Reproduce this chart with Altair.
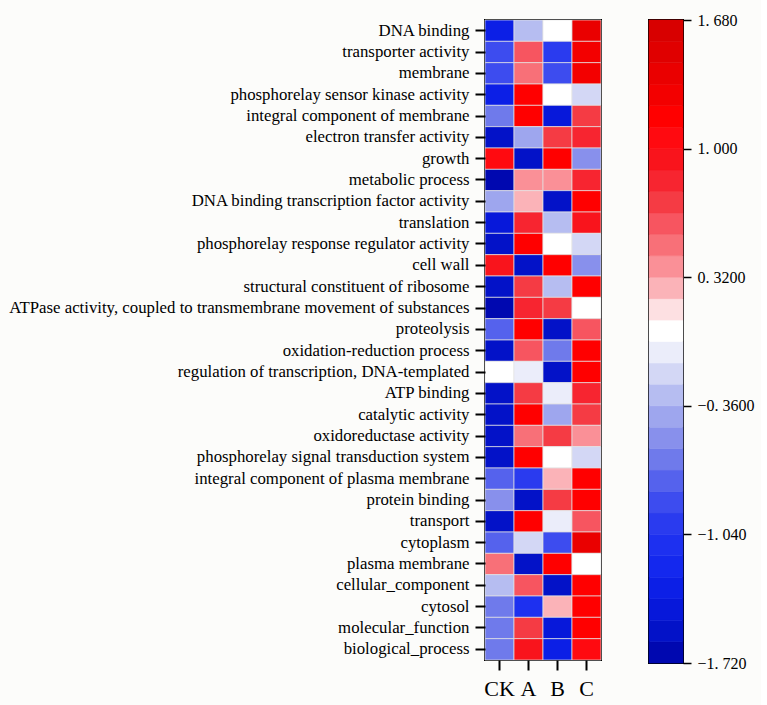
import altair as alt
import pandas as pd

terms = [
    "DNA binding",
    "transporter activity",
    "membrane",
    "phosphorelay sensor kinase activity",
    "integral component of membrane",
    "electron transfer activity",
    "growth",
    "metabolic process",
    "DNA binding transcription factor activity",
    "translation",
    "phosphorelay response regulator activity",
    "cell wall",
    "structural constituent of ribosome",
    "ATPase activity, coupled to transmembrane movement of substances",
    "proteolysis",
    "oxidation-reduction process",
    "regulation of transcription, DNA-templated",
    "ATP binding",
    "catalytic activity",
    "oxidoreductase activity",
    "phosphorelay signal transduction system",
    "integral component of plasma membrane",
    "protein binding",
    "transport",
    "cytoplasm",
    "plasma membrane",
    "cellular_component",
    "cytosol",
    "molecular_function",
    "biological_process",
]
groups = ["CK", "A", "B", "C"]

ck = [-1.30, -0.90, -0.90, -1.35, -0.60, -1.50, 1.05, -1.66, -0.45, -1.45,
      -1.50, 0.90, -1.60, -1.66, -0.80, -1.50, 0.03, -1.60, -1.60, -1.60,
      -1.60, -0.80, -0.53, -1.60, -0.78, 0.50, -0.33, -0.62, -0.62, -0.62]
a_vals = [-0.35, 0.60, 0.50, 1.17, 1.17, -0.45, -1.60, 0.40, 0.27, 0.85,
          1.17, -1.50, 0.75, 0.85, 1.20, 0.62, -0.05, 0.72, 1.20, 0.50,
          1.20, -0.95, -1.55, 1.20, -0.20, -1.60, 0.60, -1.10, 0.72, 0.95]
b_vals = [0.03, -1.00, -0.92, 0.00, -1.45, 0.75, 1.17, 0.35, -1.55, -0.25,
          0.05, 1.17, -0.32, 0.75, -1.50, -0.62, -1.55, -0.08, -0.47, 0.72,
          0.03, 0.25, 0.72, -0.05, -0.85, 1.20, -1.60, 0.28, -1.40, -1.30]
c_vals = [1.40, 1.30, 1.30, -0.19, 0.72, 0.85, -0.55, 0.83, 1.17, 0.95,
          -0.19, -0.55, 1.17, 0.03, 0.60, 1.20, 1.20, 0.85, 0.70, 0.40,
          -0.20, 1.20, 1.20, 0.60, 1.45, 0.03, 1.20, 1.20, 1.20, 1.00]

color_min = -1.72
color_max = 1.68
# 30 colour bands, lowest value first
band_colors = [
    "#0008b0", "#0312c8", "#0718da", "#0c1fe6", "#1428ee", "#1d30f0",
    "#2a3bef", "#3d4cef", "#5562ed", "#6f7aeb", "#8890ec", "#9ea6ee",
    "#b6bdf1", "#d3d7f5", "#ebedfa", "#ffffff", "#fde0e2", "#fbb3b8",
    "#fa9097", "#f87078", "#f75560", "#f53b44", "#f72530", "#f9141c",
    "#ff0a10", "#ff0000", "#f30000", "#ea0000", "#e00000", "#d80000",
]
legend_ticks = [1.68, 1.0, 0.32, -0.36, -1.04, -1.72]
legend_tick_labels = ["1. 680", "1. 000", "0. 3200", "\u22120. 3600", "\u22121. 040", "\u22121. 720"]

rows = []
for i, t in enumerate(terms):
    for g, vals in zip(groups, [ck, a_vals, b_vals, c_vals]):
        rows.append({"term": t, "group": g, "value": vals[i]})
df = pd.DataFrame(rows)

n = len(band_colors)
step = (color_max - color_min) / n
bands = pd.DataFrame({
    "lo": [color_min + k * step for k in range(n)],
    "hi": [color_min + (k + 1) * step for k in range(n)],
    "mid": [color_min + (k + 0.5) * step for k in range(n)],
})

label_expr = "''"
for v, lab in reversed(list(zip(legend_ticks, legend_tick_labels))):
    label_expr = f"abs(datum.value - ({v})) < 0.001 ? '{lab}' : ({label_expr})"

FONT = "'Liberation Serif', 'Times New Roman', 'DejaVu Serif', serif"
color_scale = alt.Scale(type="quantize", domain=[color_min, color_max], range=band_colors)

heat = alt.Chart(df).mark_rect(stroke="#e4e4e4", strokeWidth=0.7).encode(
    x=alt.X("group:N", sort=groups, title=None,
            axis=alt.Axis(labelAngle=0, labelFont=FONT, labelFontSize=22, labelColor="black",
                          tickSize=10, tickWidth=2, tickColor="black", domain=False,
                          labelPadding=8)),
    y=alt.Y("term:N", sort=terms, title=None,
            axis=alt.Axis(labelFont=FONT, labelFontSize=16.8, labelColor="black",
                          tickSize=10, tickWidth=2, tickColor="black", domain=False,
                          labelPadding=6, labelLimit=0, minExtent=479)),
    color=alt.Color("value:Q", scale=color_scale, legend=None),
).properties(width=116, height=640)

legend_bar = alt.Chart(bands).mark_rect(strokeWidth=0.6).encode(
    y=alt.Y("lo:Q", scale=alt.Scale(domain=[color_min, color_max], nice=False, zero=False),
            axis=alt.Axis(orient="right", values=legend_ticks, labelExpr=label_expr,
                          labelFont=FONT, labelFontSize=16, labelColor="black",
                          tickSize=8, tickWidth=1.5, tickColor="black", domain=False,
                          grid=False, labelPadding=6, labelFlush=False, labelOverlap=False,
                          title=None)),
    y2="hi:Q",
    color=alt.Color("mid:Q", scale=color_scale, legend=None),
    stroke=alt.Stroke("mid:Q", scale=color_scale, legend=None),
).properties(width=34, height=643)

chart = alt.hconcat(heat, legend_bar, spacing=44).properties(
    padding={"left": 5, "top": 11, "right": 5, "bottom": 5},
    background="#fcfcfa",
).configure_view(stroke="black", strokeWidth=2)

chart.save("out.html", embed_options={"renderer": "svg", "actions": False})
